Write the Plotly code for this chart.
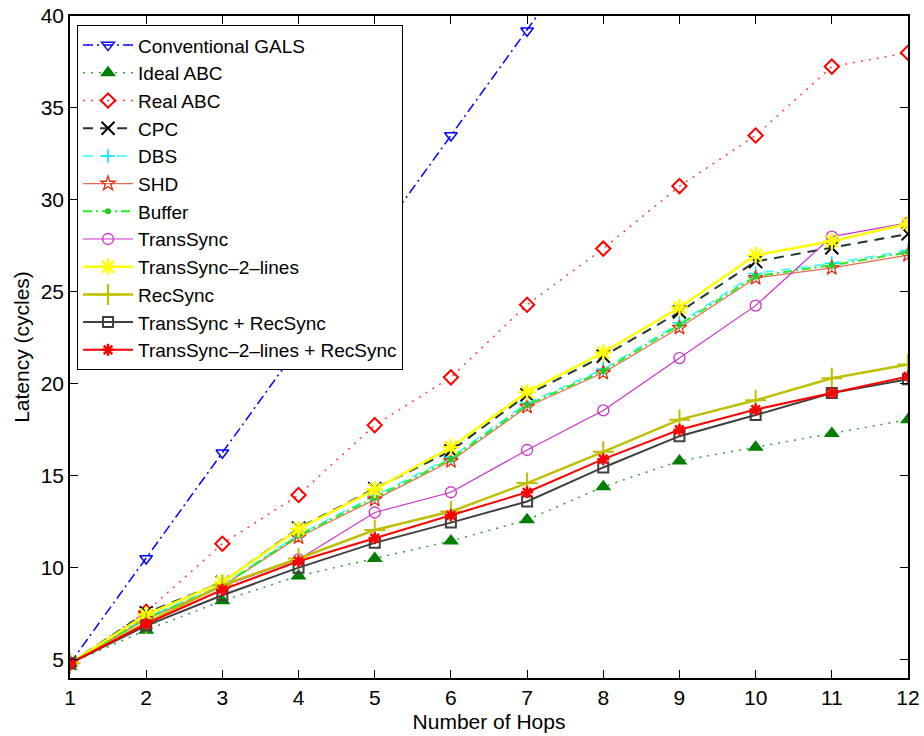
import plotly.graph_objects as go

hops = [1, 2, 3, 4, 5, 6, 7, 8, 9, 10, 11, 12]

conventional_gals = [4.8, 10.5, 16.25, 22.0, 27.75, 33.5, 39.2, 45.0, 50.7, 56.5, 62.2, 68.0]
ideal_abc = [4.8, 6.6, 8.2, 9.55, 10.5, 11.45, 12.6, 14.4, 15.8, 16.55, 17.3, 18.05]
real_abc = [4.8, 7.6, 11.3, 13.95, 17.75, 20.35, 24.3, 27.35, 30.75, 33.5, 37.25, 38.0]
cpc = [4.8, 7.55, 9.2, 12.15, 14.3, 16.35, 19.4, 21.5, 23.9, 26.65, 27.4, 28.15]
dbs = [4.8, 7.3, 9.05, 11.8, 13.9, 16.0, 18.95, 20.8, 23.3, 26.0, 26.55, 27.25]
shd = [4.8, 7.2, 9.0, 11.65, 13.7, 15.8, 18.75, 20.6, 23.05, 25.75, 26.3, 27.0]
buffer = [4.8, 7.25, 9.0, 11.75, 13.8, 15.9, 18.85, 20.7, 23.2, 25.85, 26.45, 27.15]
transsync = [4.8, 7.0, 9.0, 10.45, 13.0, 14.1, 16.4, 18.55, 21.4, 24.25, 28.0, 28.75]
transsync_2lines = [4.8, 7.45, 9.2, 12.1, 14.25, 16.55, 19.55, 21.7, 24.15, 27.0, 27.75, 28.7]
recsync = [4.8, 7.0, 9.05, 10.5, 12.05, 13.05, 14.6, 16.3, 18.05, 19.1, 20.3, 21.05]
transsync_recsync = [4.8, 6.85, 8.5, 10.0, 11.35, 12.45, 13.6, 15.45, 17.15, 18.3, 19.5, 20.25]
transsync_2lines_recsync = [4.8, 6.95, 8.8, 10.35, 11.6, 12.85, 14.1, 15.9, 17.5, 18.6, 19.5, 20.4]

x_ticks = [1, 2, 3, 4, 5, 6, 7, 8, 9, 10, 11, 12]
y_ticks = [5, 10, 15, 20, 25, 30, 35, 40]

series = [
    dict(name="Conventional GALS", y=conventional_gals,
         line=dict(color="#0000ff", width=1.5, dash="10px,4px,2px,4px"),
         marker=dict(symbol="triangle-down-open", size=11, color="#0000ff", line=dict(width=1.5, color="#0000ff"))),
    dict(name="Ideal ABC", y=ideal_abc,
         line=dict(color="#3a9a3a", width=1.5, dash="2px,6px"),
         marker=dict(symbol="triangle-up", size=14, color="#007f00", line=dict(width=0, color="#007f00"))),
    dict(name="Real ABC", y=real_abc,
         line=dict(color="#ff4040", width=1.5, dash="2px,6px"),
         marker=dict(symbol="diamond-open", size=11, color="#ff0000", line=dict(width=2, color="#ff0000"))),
    dict(name="CPC", y=cpc,
         line=dict(color="#1f3a2e", width=2, dash="10px,7px"),
         marker=dict(symbol="x-thin-open", size=13, color="#000000", line=dict(width=2, color="#000000"))),
    dict(name="DBS", y=dbs,
         line=dict(color="#33ffff", width=1.5, dash="10px,7px"),
         marker=dict(symbol="cross-thin-open", size=10, color="#00e5ff", line=dict(width=1.5, color="#00e5ff"))),
    dict(name="SHD", y=shd,
         line=dict(color="#e86a50", width=1.2),
         marker=dict(symbol="star-open", size=11, color="#dd3311", line=dict(width=1.3, color="#dd3311"))),
    dict(name="Buffer", y=buffer,
         line=dict(color="#22ee22", width=2, dash="9px,4px,2px,4px"),
         marker=dict(symbol="circle", size=6, color="#22cc22", line=dict(width=0, color="#22cc22"))),
    dict(name="TransSync", y=transsync,
         line=dict(color="#cc33cc", width=1.2),
         marker=dict(symbol="circle-open", size=11, color="#cc33cc", line=dict(width=1.3, color="#cc33cc"))),
    dict(name="TransSync\u20132\u2013lines", y=transsync_2lines,
         line=dict(color="#ffff00", width=2.5),
         marker=dict(symbol="asterisk-open", size=14, color="#ffff00", line=dict(width=2.5, color="#ffff00"))),
    dict(name="RecSync", y=recsync,
         line=dict(color="#bfbf00", width=2.5),
         marker=dict(symbol="cross-thin-open", size=15, color="#bfbf00", line=dict(width=2, color="#bfbf00"))),
    dict(name="TransSync + RecSync", y=transsync_recsync,
         line=dict(color="#404040", width=2),
         marker=dict(symbol="square-open", size=10, color="#404040", line=dict(width=2, color="#404040"))),
    dict(name="TransSync\u20132\u2013lines + RecSync", y=transsync_2lines_recsync,
         line=dict(color="#ff0000", width=2),
         marker=dict(symbol="asterisk-open", size=10, color="#ff0000", line=dict(width=2.5, color="#ff0000"))),
]

fig = go.Figure()
for s in series:
    fig.add_trace(go.Scatter(x=hops, y=s["y"], name=s["name"], mode="lines+markers",
                             line=s["line"], marker=s["marker"]))

font_family = "Arial, Liberation Sans, Helvetica, sans-serif"

fig.update_layout(
    width=924, height=736,
    margin=dict(l=70, r=16, t=16, b=58),
    paper_bgcolor="white", plot_bgcolor="white",
    font=dict(family=font_family, size=21, color="#000000"),
    showlegend=True,
    legend=dict(x=0.0084, y=0.986, xanchor="left", yanchor="top",
                bgcolor="white", bordercolor="#000000", borderwidth=1,
                font=dict(size=19, family=font_family), itemwidth=50,
                entrywidth=310, tracegroupgap=0),
    xaxis=dict(range=[1, 12], tickvals=x_ticks, ticks="inside", ticklen=8, tickwidth=1,
               tickcolor="#000000", showline=True, linecolor="#000000", linewidth=1.5,
               mirror="allticks", showgrid=False, zeroline=False, automargin=False,
               title=dict(text="Number of Hops", standoff=6, font=dict(size=21)),
               tickfont=dict(size=21)),
    yaxis=dict(range=[4, 40], tickvals=y_ticks, ticks="inside", ticklen=8, tickwidth=1,
               tickcolor="#000000", showline=True, linecolor="#000000", linewidth=1.5,
               mirror="allticks", showgrid=False, zeroline=False, automargin=False,
               title=dict(text="Latency (cycles)", standoff=5, font=dict(size=21)),
               tickfont=dict(size=21)),
)

fig.write_html("out.html", config={"displayModeBar": False},
               post_script="document.body.style.margin='0';document.body.style.overflow='hidden';")
